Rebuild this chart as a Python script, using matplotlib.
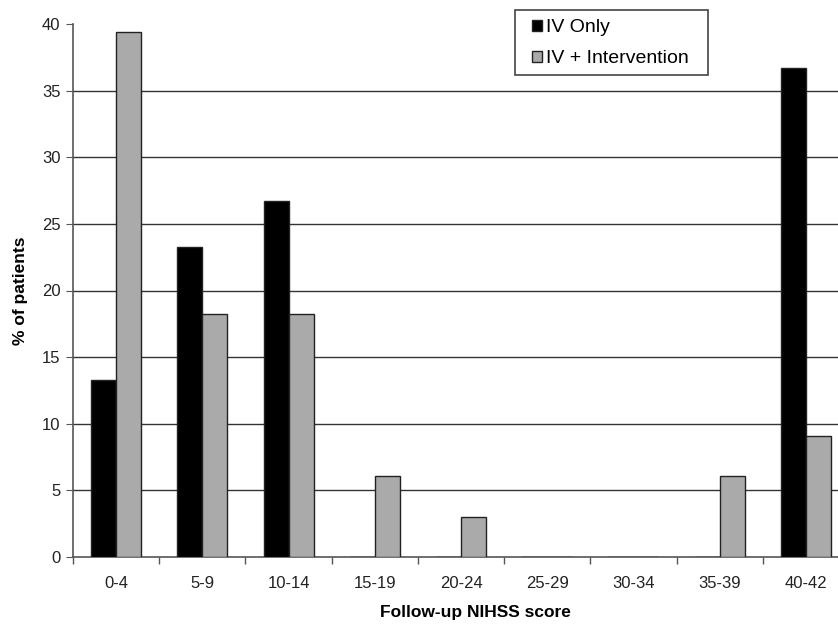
import matplotlib.pyplot as plt
import matplotlib.patches as mpatches
import numpy as np

plt.rcParams["font.family"] = ["Liberation Sans", "DejaVu Sans"]

categories = ["0-4", "5-9", "10-14", "15-19", "20-24", "25-29", "30-34", "35-39", "40-42"]
iv_only = [13.3, 23.3, 26.7, 0, 0, 0, 0, 0, 36.7]
iv_intervention = [39.4, 18.2, 18.2, 6.1, 3.0, 0, 0, 6.1, 9.1]


def main():
    W, H = 838, 624
    fig = plt.figure(figsize=(W / 100, H / 100), dpi=100)
    # axes run past the right edge, as in the reference
    ax = fig.add_axes([73 / W, 1 - 557 / H, 776 / W, 533 / H])

    x = np.arange(len(categories))
    w = 0.29

    ax.bar(x - w / 2, iv_only, w, color="black", edgecolor="#222222",
           linewidth=1, label="IV Only", zorder=3)
    ax.bar(x + w / 2, iv_intervention, w, color="#aaaaaa", edgecolor="#222222",
           linewidth=1, label="IV + Intervention", zorder=3)

    ax.set_xlim(-0.5, len(categories) - 0.5)
    ax.set_ylim(0, 40)
    ax.set_yticks(range(0, 41, 5))

    # horizontal gridlines (none at the top)
    for yv in range(5, 40, 5):
        ax.axhline(yv, color="#333333", linewidth=1, zorder=1)

    ax.set_xticks(x)
    ax.set_xticklabels(categories)
    ax.set_xticks(np.arange(-0.5, len(categories) + 0.5, 1), minor=True)
    ax.tick_params(axis="x", which="major", length=0, pad=14, labelsize=12,
                   labelcolor="#222222")
    ax.tick_params(axis="x", which="minor", length=5, direction="out",
                   color="#555555", width=1)
    ax.tick_params(axis="y", length=5, direction="out", color="#555555",
                   labelsize=12, labelcolor="#222222", pad=4)

    for s in ["top", "right"]:
        ax.spines[s].set_visible(False)
    for s in ["left", "bottom"]:
        ax.spines[s].set_color("#555555")
        ax.spines[s].set_linewidth(1.2)

    fig.text(475 / W, 1 - 612 / H, "Follow-up NIHSS score", ha="center",
             va="center", fontsize=12.5, fontweight="bold")
    fig.text(21 / W, 1 - 291 / H, "% of patients", ha="center",
             va="center", rotation=90, fontsize=12.5, fontweight="bold")

    # legend box drawn separately so its padding matches
    box = mpatches.Rectangle((515 / W, 1 - 75 / H), 193 / W, 65 / H,
                             transform=fig.transFigure, facecolor="white",
                             edgecolor="#444444", linewidth=1.2, zorder=5)
    fig.patches.append(box)

    handles = [
        mpatches.Patch(facecolor="black", edgecolor="#222222", label="IV Only"),
        mpatches.Patch(facecolor="#aaaaaa", edgecolor="#222222",
                       label="IV + Intervention"),
    ]
    leg = fig.legend(handles=handles, loc="upper left",
                     bbox_to_anchor=(532 / W, 1 - 19 / H), fontsize=14,
                     frameon=False, handlelength=0.5, handleheight=0.5,
                     handletextpad=0.2, borderpad=0, borderaxespad=0,
                     labelspacing=0.72)
    leg.set_zorder(6)

    fig.savefig("out.png", dpi=100, facecolor="white")


if __name__ == "__main__":
    main()
